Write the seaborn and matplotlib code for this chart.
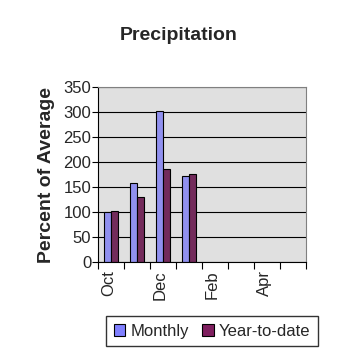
import numpy as np
import pandas as pd
import seaborn as sns
import matplotlib.pyplot as plt
from matplotlib.ticker import FixedLocator

months = ['Oct', 'Nov', 'Dec', 'Jan', 'Feb', 'Mar', 'Apr', 'May']
monthly = [100, 158, 302, 173, np.nan, np.nan, np.nan, np.nan]
year_to_date = [102, 130, 187, 177, np.nan, np.nan, np.nan, np.nan]
series = ['Monthly', 'Year-to-date']
colors = ['#8080FF', '#7F1F5F']

df = pd.DataFrame({
    'month': months * 2,
    'value': monthly + year_to_date,
    'series': [series[0]] * len(months) + [series[1]] * len(months),
})

sns.set_style('white')
plt.rcParams['font.family'] = ['Liberation Sans', 'DejaVu Sans']

fig = plt.figure(figsize=(3.58, 3.58), dpi=100)
ax = fig.add_axes([0.274, 0.268, 0.581, 0.489])
ax.set_facecolor('#E0E0E0')

sns.barplot(data=df.dropna(), x='month', y='value', hue='series', order=months,
            hue_order=series, palette=colors, width=0.56, edgecolor='black',
            linewidth=0.8, errorbar=None, ax=ax, legend=False)

ax.set_xlim(-0.5, len(months) - 0.5)
ax.set_ylim(0, 350)
ax.set_yticks(range(0, 351, 50))
ax.yaxis.grid(True, color='black', linewidth=0.8)
ax.set_axisbelow(True)

# labels on every other month, tick marks at category boundaries
ax.set_xticks(np.arange(0, len(months), 2) - 0.1)
ax.set_xticklabels(months[::2], rotation=90, fontsize=12)
ax.tick_params(axis='x', which='major', length=0, pad=6)
ax.xaxis.set_minor_locator(FixedLocator(np.arange(-0.5, len(months), 1)))
ax.tick_params(axis='x', which='minor', length=5, width=0.8, color='black', direction='out', bottom=True)
ax.tick_params(axis='y', length=4, width=0.8, color='black', direction='out', left=True, labelsize=12, pad=1)

for s in ['top', 'right']:
    ax.spines[s].set_color('#808080')
for s in ['left', 'bottom']:
    ax.spines[s].set_color('black')
for s in ax.spines.values():
    s.set_linewidth(0.8)

ax.set_xlabel('')
ax.set_ylabel('Percent of Average', fontsize=14, fontweight='bold', labelpad=6)
fig.suptitle('Precipitation', fontsize=14, fontweight='bold', y=0.925)

handles = [plt.Rectangle((0, 0), 1, 1, facecolor=c, edgecolor='black', linewidth=0.8) for c in colors]
fig.legend(handles, series, loc='center', bbox_to_anchor=(0.592, 0.075), ncol=2,
           frameon=True, fancybox=False, edgecolor='black', fontsize=12,
           handlelength=0.7, handleheight=0.7, handletextpad=0.3, columnspacing=0.8,
           borderpad=0.45)

fig.savefig('out.png', dpi=100)
